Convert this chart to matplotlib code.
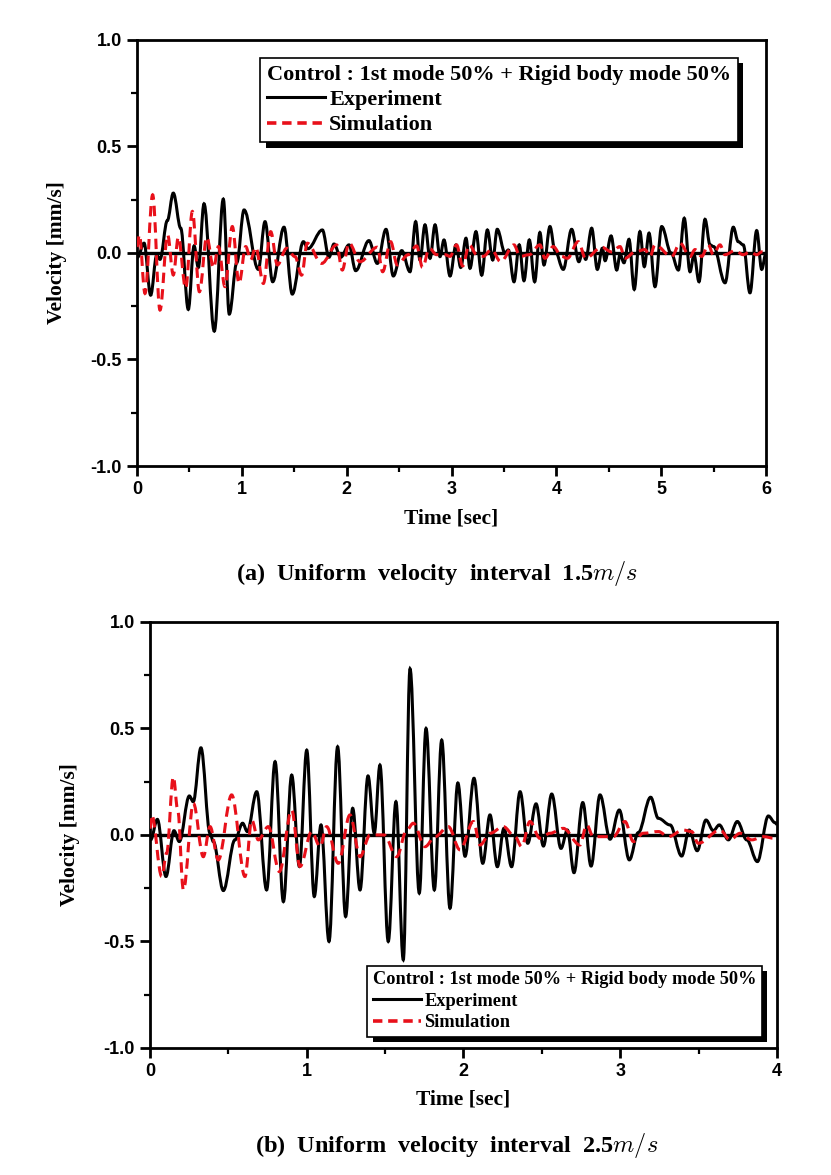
import matplotlib
matplotlib.use('Agg')
import matplotlib.pyplot as plt
from matplotlib.path import Path
from matplotlib.patches import PathPatch
from matplotlib.lines import Line2D
from matplotlib.ticker import MultipleLocator, FormatStrFormatter

# ---- (a) 1.5 m/s : experiment (peaks / troughs)
top_exp_t = [0.005, 0.067, 0.13, 0.188, 0.219, 0.289, 0.346, 0.417, 0.489, 0.544,
             0.585, 0.639, 0.737, 0.823, 0.88, 0.952, 1.021, 1.157, 1.221, 1.294,
             1.402, 1.481, 1.587, 1.63, 1.768, 1.831, 1.879, 1.943, 2.022, 2.086,
             2.212, 2.292, 2.375, 2.445, 2.525, 2.604, 2.658, 2.699, 2.747, 2.795,
             2.843, 2.89, 2.928, 2.986, 3.043, 3.088, 3.138, 3.176, 3.233, 3.288,
             3.342, 3.393, 3.436, 3.51, 3.542, 3.596, 3.646, 3.691, 3.742, 3.793,
             3.843, 3.882, 3.939, 3.987, 4.066, 4.146, 4.215, 4.25, 4.28, 4.337,
             4.391, 4.439, 4.465, 4.522, 4.576, 4.608, 4.645, 4.693, 4.743, 4.797,
             4.839, 4.884, 4.941, 5.005, 5.094, 5.164, 5.22, 5.275, 5.313, 5.361,
             5.418, 5.466, 5.5, 5.609, 5.688, 5.735, 5.783, 5.847, 5.911, 5.959, 6.0]
top_exp_v = [-0.02, 0.046, -0.198, -0.01, -0.03, 0.152, 0.281, 0.116, -0.265, 0.033,
             -0.068, 0.231, -0.367, 0.253, -0.287, -0.045, 0.202, -0.077, 0.147, -0.135,
             0.121, -0.193, 0.053, 0.02, 0.108, -0.02, 0.042, -0.02, 0.038, -0.083,
             0.058, -0.049, 0.111, -0.108, 0.011, -0.088, 0.147, -0.033, 0.132, -0.025,
             0.132, -0.017, 0.061, -0.108, 0.038, -0.068, 0.069, -0.072, 0.1, -0.104,
             0.108, -0.033, 0.111, 0.0, 0.014, -0.135, 0.038, -0.13, 0.061, -0.135,
             0.096, -0.056, 0.124, 0.011, -0.077, 0.111, -0.041, 0.005, -0.03, 0.116,
             -0.077, 0.022, -0.036, 0.08, -0.08, -0.006, -0.046, 0.064, -0.171, 0.1,
             -0.064, 0.093, -0.158, 0.124, 0.0, -0.08, 0.163, -0.088, -0.009, -0.135,
             0.158, 0.038, 0.03, -0.14, 0.121, 0.053, 0.038, -0.187, 0.105, -0.077, 0.0]

# ---- (a) simulation
top_sim_t = [0.0, 0.022, 0.076, 0.149, 0.219, 0.292, 0.346, 0.394, 0.464, 0.528,
             0.595, 0.665, 0.73, 0.776, 0.839, 0.909, 0.973, 1.037, 1.084, 1.132,
             1.205, 1.275, 1.339, 1.427, 1.507, 1.57, 1.624, 1.761, 1.904, 1.958,
             2.022, 2.127, 2.292, 2.343, 2.419, 2.482, 2.588, 2.667, 2.724, 2.788,
             2.858, 2.938, 2.986, 3.048, 3.106, 3.169, 3.24, 3.302, 3.382, 3.469,
             3.596, 3.653, 3.742, 3.843, 3.891, 3.97, 4.05, 4.105, 4.209, 4.279,
             4.432, 4.527, 4.607, 4.655, 4.75, 4.845, 4.893, 4.941, 5.1, 5.18,
             5.275, 5.323, 5.386, 5.45, 5.497, 5.561, 5.609, 5.704, 5.783, 5.847,
             5.911, 5.959, 6.0]
top_sim_v = [0.03, 0.085, -0.19, 0.273, -0.268, 0.085, -0.103, 0.074, -0.166, 0.195,
             -0.182, 0.074, -0.07, 0.03, -0.158, 0.124, -0.143, 0.03, -0.033, 0.027,
             -0.143, 0.1, -0.056, 0.022, -0.017, -0.104, 0.046, -0.049, 0.038, -0.08,
             0.047, -0.041, 0.027, -0.088, 0.053, -0.056, -0.008, 0.033, -0.068, 0.022,
             -0.008, -0.008, -0.016, 0.038, -0.061, 0.038, -0.008, -0.016, 0.016, -0.041,
             0.038, -0.016, -0.008, 0.038, -0.025, 0.03, -0.016, -0.025, 0.053, -0.025,
             0.027, 0.005, 0.03, -0.025, 0.005, 0.016, -0.016, 0.038, -0.017, 0.046,
             -0.017, 0.016, -0.016, 0.038, -0.008, 0.038, -0.008, 0.011, -0.008, 0.005,
             -0.008, 0.005, 0.0]

# ---- (b) 2.5 m/s : experiment
bot_exp_t = [0.004, 0.047, 0.102, 0.153, 0.187, 0.251, 0.276, 0.325, 0.383, 0.404,
             0.468, 0.542, 0.591, 0.621, 0.681, 0.744, 0.798, 0.851, 0.904, 0.953,
             1.0, 1.048, 1.091, 1.142, 1.197, 1.248, 1.293, 1.34, 1.391, 1.431,
             1.467, 1.52, 1.569, 1.616, 1.659, 1.718, 1.761, 1.814, 1.861, 1.914,
             1.964, 2.01, 2.067, 2.123, 2.169, 2.216, 2.258, 2.307, 2.361, 2.41,
             2.463, 2.51, 2.563, 2.622, 2.663, 2.705, 2.761, 2.814, 2.871, 2.935,
             2.994, 3.058, 3.115, 3.194, 3.243, 3.318, 3.392, 3.44, 3.491, 3.547,
             3.594, 3.632, 3.69, 3.747, 3.807, 3.875, 3.945, 3.987, 4.0]
bot_exp_v = [-0.023, 0.073, -0.195, 0.02, -0.031, 0.183, 0.156, 0.409, 0.008, -0.031,
             -0.261, -0.023, 0.055, 0.016, 0.203, -0.258, 0.344, -0.313, 0.281, -0.148,
             0.398, -0.289, 0.047, -0.5, 0.414, -0.383, 0.125, -0.258, 0.277, 0.008,
             0.328, -0.5, 0.156, -0.586, 0.78, -0.273, 0.5, -0.258, 0.445, -0.344,
             0.244, -0.1, 0.266, -0.133, 0.094, -0.149, 0.031, -0.149, 0.203, -0.039,
             0.146, -0.052, 0.192, -0.063, 0.023, -0.177, 0.152, -0.146, 0.188, -0.02,
             0.117, -0.117, 0.011, 0.177, 0.078, 0.047, -0.099, 0.023, -0.074, 0.07,
             0.02, 0.047, -0.023, 0.063, -0.023, -0.125, 0.089, 0.058, 0.05]

# ---- (b) simulation
bot_sim_t = [0.0, 0.011, 0.075, 0.106, 0.149, 0.177, 0.213, 0.277, 0.34, 0.383,
             0.436, 0.521, 0.606, 0.649, 0.691, 0.755, 0.825, 0.904, 0.957, 1.032,
             1.085, 1.127, 1.201, 1.276, 1.34, 1.404, 1.493, 1.574, 1.638, 1.68,
             1.755, 1.818, 1.903, 1.978, 2.063, 2.106, 2.169, 2.254, 2.329, 2.371,
             2.424, 2.488, 2.552, 2.636, 2.743, 2.786, 2.828, 2.871, 2.956, 3.03,
             3.084, 3.147, 3.243, 3.307, 3.402, 3.455, 3.498, 3.637, 3.701, 3.765,
             3.839, 3.913, 3.988, 4.0]
bot_sim_v = [0.03, 0.094, -0.195, -0.086, 0.273, 0.117, -0.258, 0.148, -0.102, 0.039,
             -0.117, 0.188, -0.195, 0.07, -0.023, 0.039, -0.172, 0.117, -0.148, 0.016,
             -0.055, 0.039, -0.133, 0.094, -0.102, 0.0, 0.0, -0.102, 0.023, 0.055,
             -0.055, -0.008, 0.039, -0.07, 0.063, -0.047, 0.008, 0.039, -0.008, -0.055,
             0.063, -0.016, 0.008, 0.031, -0.047, 0.047, -0.008, -0.008, -0.008, 0.063,
             -0.031, 0.008, 0.016, -0.008, 0.023, 0.016, -0.039, 0.023, -0.023, 0.008,
             -0.023, -0.008, -0.016, -0.02]

legend_title = 'Control : 1st mode 50% + Rigid body mode 50%'

plt.rcParams['axes.unicode_minus'] = False
plt.rcParams['mathtext.fontset'] = 'cm'

SERIF = 'Liberation Serif'
SANS = 'Liberation Sans'
RED = '#e8101a'


def smooth_curve(t, v, **kw):
    # join the read extrema with flat-tangent cubic segments
    verts = [(t[0], v[0])]
    codes = [Path.MOVETO]
    for i in range(1, len(t)):
        dt = t[i] - t[i - 1]
        verts += [(t[i - 1] + 0.36 * dt, v[i - 1]), (t[i] - 0.36 * dt, v[i]), (t[i], v[i])]
        codes += [Path.CURVE4] * 3
    return PathPatch(Path(verts, codes), fill=False, **kw)


def draw_panel(ax, exp_t, exp_v, sim_t, sim_v, xmax, leg_loc, leg_anchor, leg_size, leg_gap):
    ax.axhline(0, color='black', lw=2.4, zorder=1)
    ax.add_patch(smooth_curve(exp_t, exp_v, edgecolor='black', lw=2.2, zorder=2))
    ax.add_patch(smooth_curve(sim_t, sim_v, edgecolor=RED, lw=2.2,
                              linestyle=(0, (3.4, 2.0)), zorder=3))
    ax.set_xlim(0, xmax)
    ax.set_ylim(-1.0, 1.0)
    ax.xaxis.set_major_locator(MultipleLocator(1))
    ax.xaxis.set_minor_locator(MultipleLocator(0.5))
    ax.yaxis.set_major_locator(MultipleLocator(0.5))
    ax.yaxis.set_minor_locator(MultipleLocator(0.25))
    ax.yaxis.set_major_formatter(FormatStrFormatter('%.1f'))
    ax.tick_params(which='major', direction='out', length=7, width=2, pad=4)
    ax.tick_params(which='minor', direction='out', length=4, width=1.6)
    for lab in ax.get_xticklabels() + ax.get_yticklabels():
        lab.set_fontfamily(SANS)
        lab.set_fontweight('bold')
        lab.set_fontsize(13)
    for sp in ax.spines.values():
        sp.set_linewidth(2)
    ax.set_xlabel('Time [sec]', fontfamily=SERIF, fontweight='bold', fontsize=15.5, labelpad=7)
    ax.set_ylabel('Velocity [mm/s]', fontfamily=SERIF, fontweight='bold', fontsize=15.5, labelpad=17)

    handles = [Line2D([], [], color='black', lw=2.2),
               Line2D([], [], color=RED, lw=2.6, linestyle=(0, (2.6, 1.6)))]
    leg = ax.legend(handles, ['Experiment', 'Simulation'], title=legend_title,
                    loc=leg_loc, bbox_to_anchor=leg_anchor, alignment='left',
                    prop={'family': SERIF, 'weight': 'bold', 'size': leg_size},
                    title_fontproperties={'family': SERIF, 'weight': 'bold', 'size': leg_size},
                    fancybox=False, framealpha=1, edgecolor='black',
                    shadow={'ox': 4, 'oy': -4, 'color': 'black', 'alpha': 1, 'linewidth': 0},
                    handlelength=2.6, handletextpad=0.2, labelspacing=leg_gap,
                    borderpad=0.3, borderaxespad=0)
    leg.get_frame().set_linewidth(1.2)


fig = plt.figure(figsize=(8.31, 11.75), dpi=100)

ax1 = fig.add_axes([0.1649, 0.6034, 0.7569, 0.3626])
draw_panel(ax1, top_exp_t, top_exp_v, top_sim_t, top_sim_v, 6,
           'upper right', (0.955, 0.958), 16, 0.22)

ax2 = fig.add_axes([0.1805, 0.1081, 0.7545, 0.3626])
draw_panel(ax2, bot_exp_t, bot_exp_v, bot_sim_t, bot_sim_v, 4,
           'lower right', (0.976, 0.026), 13.2, 0.25)

fig.text(236 / 831, 1 - 574 / 1175, '(a)  Uniform  velocity  interval  1.5$m/s$',
         fontfamily=SERIF, fontweight='bold', fontsize=17.5, ha='left', va='center')
fig.text(255 / 831, 1 - 1146 / 1175, '(b)  Uniform  velocity  interval  2.5$m/s$',
         fontfamily=SERIF, fontweight='bold', fontsize=17.5, ha='left', va='center')

fig.savefig('out.png', dpi=100)
